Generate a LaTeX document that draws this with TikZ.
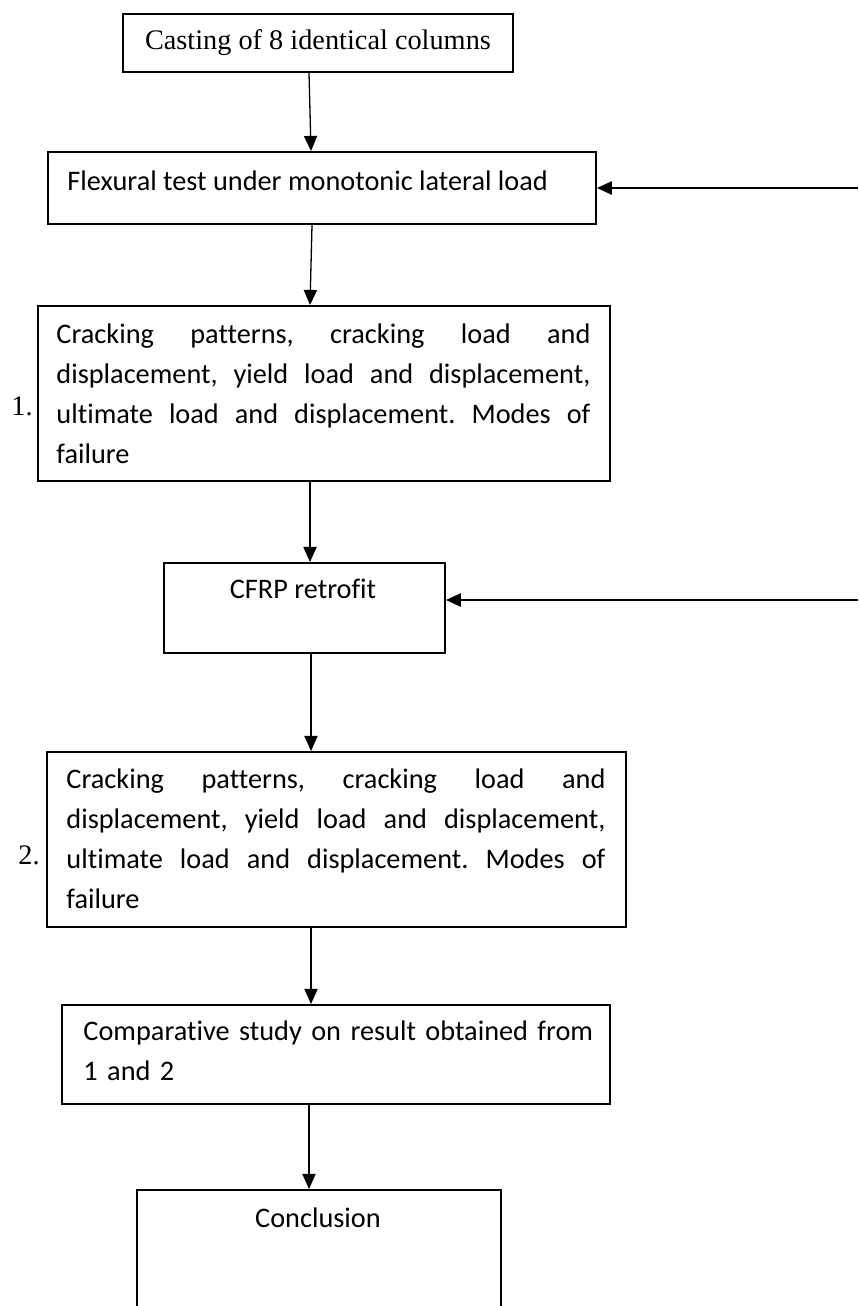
\documentclass[tikz,border=0pt]{standalone}
\usepackage{fontspec}
\setmainfont{Liberation Serif}
\newfontfamily\bodyfont[Ligatures=NoCommon]{Carlito}
\frenchspacing
\usetikzlibrary{arrows.meta,positioning}
\tikzset{
  % flow chart box, placed by its top left corner
  flowbox/.style={
    draw,
    line width=0.8pt,
    rectangle,
    inner sep=0pt,
    anchor=north west
  },
  % box size in pixels of the layout
  boxdim/.style 2 args={
    minimum width=#1*0.424pt,
    minimum height=#2*0.424pt
  },
  % one line of box text
  boxtext/.style={
    inner sep=0pt,
    font=\bodyfont\frenchspacing\fontsize{12}{17}\selectfont,
    anchor=base west
  },
  % justified block of box text
  para/.style={
    boxtext,
    text width=#1*0.424pt,
    align=justify
  },
  % step number left of a box
  numlabel/.style={
    inner sep=0pt,
    font=\fontsize{12}{14}\selectfont,
    anchor=base west
  },
  % down arrow between steps
  flow/.style={
    line width=0.55pt,
    -{Triangle[length=6.4pt,width=5.6pt]}
  },
  % arrow coming in from the right
  feed/.style={
    line width=1pt,
    -{Triangle[length=6.4pt,width=5.6pt]}
  }
}

\begin{document}
\begin{tikzpicture}[x=0.424pt, y=-0.424pt]
  \clip (0,0) rectangle (858,1306);

  % boxes
  \node[flowbox, boxdim={390}{58}, font=\fontsize{12}{14}\selectfont] (cast) at (122,13) {Casting of 8 identical columns};
  \node[flowbox, boxdim={548}{72}]  (flex)   at (47,151)  {};
  \node[flowbox, boxdim={572}{175}] (crackA) at (37,305)  {};
  \node[flowbox, boxdim={281}{90}]  (cfrp)   at (163,562) {};
  \node[flowbox, boxdim={579}{175}] (crackB) at (46,751)  {};
  \node[flowbox, boxdim={548}{99}]  (comp)   at (61,1004) {};
  \node[flowbox, boxdim={364}{160}] (concl)  at (136,1189) {};

  % texts
  \node[boxtext] (flexT) at (67,190) {Flexural test under monotonic lateral load};
  \node[para=534] (crackAT) at (56,343) {Cracking patterns, cracking load and\linebreak
    displacement, yield load and displacement,\linebreak
    ultimate load and displacement. Modes of\linebreak
    failure};
  \node[numlabel] (numA) at (11,415) {1.};
  \node[boxtext, anchor=base] (cfrpT) at (303,598) {CFRP retrofit};
  \node[para=539] (crackBT) at (66,788) {Cracking patterns, cracking load and\linebreak
    displacement, yield load and displacement,\linebreak
    ultimate load and displacement. Modes of\linebreak
    failure};
  \node[numlabel] (numB) at (18,864) {2.};
  \node[para=520, align=left] (compT) at (83,1040) {Comparative study on result obtained from\\1 and 2};
  \node[boxtext, anchor=base] (conclT) at (318,1227) {Conclusion};

  % main flow
  \draw[flow] (cast.south -| 309,0)   -- (flex.north -| 311,0);
  \draw[flow] (flex.south -| 312,0)   -- (crackA.north -| 310,0);
  \draw[flow] (crackA.south -| 310,0) -- (cfrp.north -| 310,0);
  \draw[flow] (cfrp.south -| 311,0)   -- (crackB.north -| 311,0);
  \draw[flow] (crackB.south -| 311,0) -- (comp.north -| 311,0);
  \draw[flow] (comp.south -| 309,0)   -- (concl.north -| 309,0);

  % arrows from the right edge
  \coordinate (flexIn) at (858,188);
  \coordinate (cfrpIn) at (858,600);
  \draw[feed] (flexIn) -- (flex.east |- flexIn);
  \draw[feed] (cfrpIn) -- (cfrp.east |- cfrpIn);
\end{tikzpicture}
\end{document}
